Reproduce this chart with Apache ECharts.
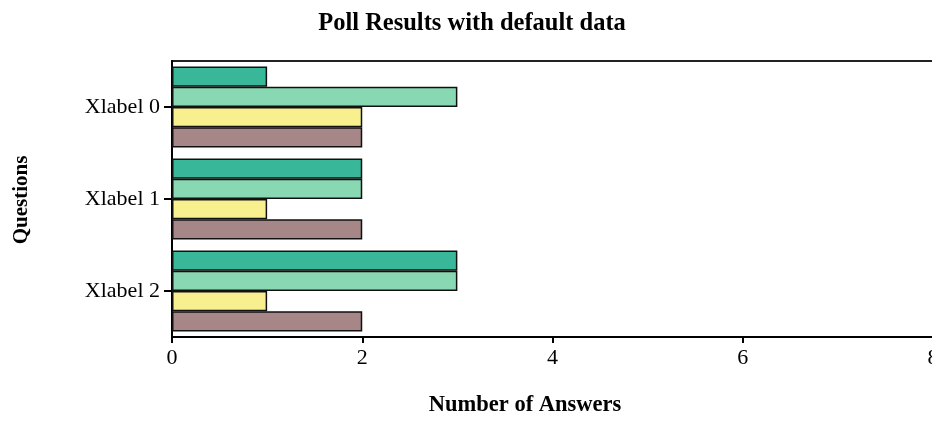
<!DOCTYPE html>
<html>
<head>
<meta charset="utf-8">
<script src="https://cdn.jsdelivr.net/npm/echarts@6/dist/echarts.min.js"></script>
<style>
  html, body { margin: 0; padding: 0; background: #ffffff; }
  #chart { width: 932px; height: 440px; }
</style>
</head>
<body>
<div id="chart"></div>
<script>
// Poll answers per question, one series per answer option
const questions = ['Xlabel 0', 'Xlabel 1', 'Xlabel 2'];
const answerA = [1, 2, 3];
const answerB = [3, 2, 3];
const answerC = [2, 1, 1];
const answerD = [2, 2, 2];
const xTicks = [0, 2, 4, 6, 8];

const seriesColors = ['#38b898', '#88d9b3', '#f8f08f', '#a68686'];
const seriesData = [answerA, answerB, answerC, answerD];

const serif = '"Liberation Serif", "DejaVu Serif", serif';

const chart = echarts.init(document.getElementById('chart'), null, { renderer: 'canvas' });

chart.setOption({
  animation: false,
  backgroundColor: '#ffffff',
  title: [
    {
      text: 'Poll Results with default data',
      left: 467, top: 6, textAlign: 'center',
      textStyle: { fontFamily: serif, fontWeight: 'bold', fontSize: 24.5, color: '#000' }
    },
    {
      text: 'Number of Answers',
      left: 520, top: 389, textAlign: 'center',
      textStyle: { fontFamily: serif, fontWeight: 'bold', fontSize: 22.5, color: '#000' }
    }
  ],
  graphic: [
    {
      // vertical axis name, reading bottom to top
      type: 'text',
      x: 22, y: 200, rotation: Math.PI / 2,
      style: {
        text: 'Questions', fill: '#000',
        font: 'bold 21px ' + serif,
        align: 'center', verticalAlign: 'middle'
      }
    }
  ],
  grid: {
    left: 172, top: 61, width: 761, height: 276,
    outerBoundsMode: 'none',
    containLabel: false,
    show: true, borderColor: '#222', borderWidth: 2, backgroundColor: 'transparent'
  },
  xAxis: {
    type: 'value', min: xTicks[0], max: xTicks[xTicks.length - 1], interval: 2,
    axisLine: { show: true, lineStyle: { color: '#000', width: 2 } },
    axisTick: { show: true, length: 6, lineStyle: { color: '#000', width: 2 } },
    splitLine: { show: false },
    axisLabel: {
      margin: 10, color: '#000', fontFamily: serif, fontSize: 22,
      customValues: xTicks
    }
  },
  yAxis: {
    type: 'category', data: questions, inverse: true,
    axisLine: { show: true, lineStyle: { color: '#000', width: 2 } },
    axisTick: { show: true, alignWithLabel: true, length: 8, lineStyle: { color: '#000', width: 2 } },
    axisLabel: { margin: 12, color: '#000', fontFamily: serif, fontSize: 22 }
  },
  series: seriesData.map((d, i) => ({
    type: 'bar',
    data: d,
    barGap: '0%',
    barCategoryGap: '12%',
    itemStyle: { color: seriesColors[i], borderColor: '#111', borderWidth: 1.5 }
  }))
});
</script>
</body>
</html>
